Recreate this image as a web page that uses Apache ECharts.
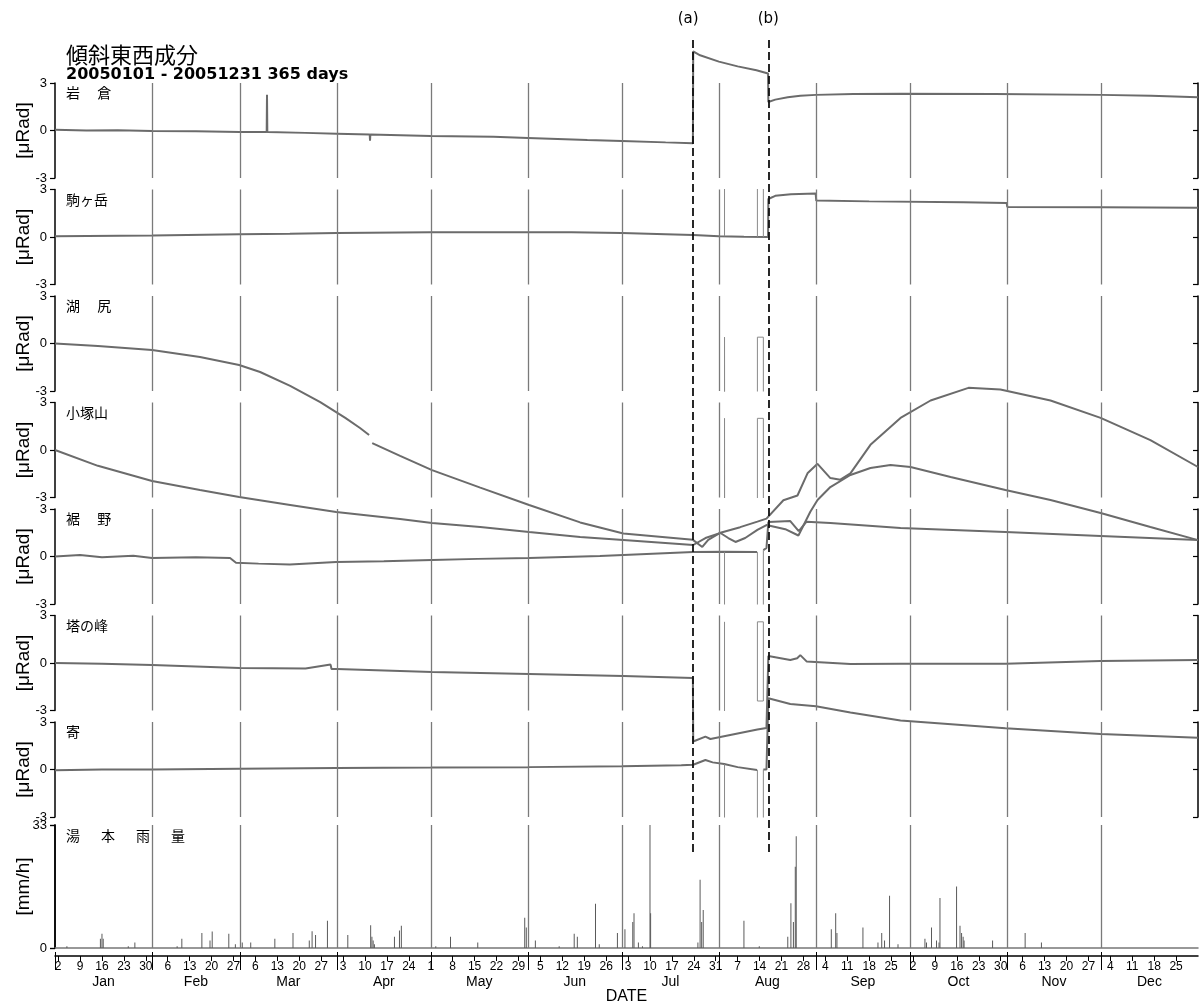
<!DOCTYPE html>
<html><head><meta charset="utf-8">
<script src="https://cdn.jsdelivr.net/npm/echarts@6/dist/echarts.min.js"></script>
<style>html,body{margin:0;padding:0;background:#fff}#c{width:1202px;height:1003px}</style>
</head><body><div id="c"></div>
<script>
// ---------- data ----------
const stationNames = ['岩\u3000 倉','駒ヶ岳','湖\u3000 尻','小塚山','裾\u3000 野','塔の峰','寄'];
const rainName = '湯\u3000\u2002本\u3000\u2002雨\u3000\u2002量';
const monthNames = ['Jan','Feb','Mar','Apr','May','Jun','Jul','Aug','Sep','Oct','Nov','Dec'];
const monthLengths = [31,28,31,30,31,30,31,31,30,31,30,31];
const weekLabels = ['2','9','16','23','30','6','13','20','27','6','13','20','27','3','10','17','24',
  '1','8','15','22','29','5','12','19','26','3','10','17','24','31','7','14','21','28',
  '4','11','18','25','2','9','16','23','30','6','13','20','27','4','11','18','25'];
const eventDays = [203.8, 227.8];
const eventLabels = ['(a)','(b)'];

// tilt, east-west component [day of year, μRad]
const iwakura = [[0,0.05],[10,0.0],[20,0.02],[31,-0.03],[45,-0.05],[59,-0.1],[67.6,-0.1],[67.7,2.25],[67.8,-0.1],[80,-0.15],[90,-0.2],[100.5,-0.25],[100.6,-0.65],[100.7,-0.25],[120,-0.35],[140,-0.4],[151,-0.47],[170,-0.6],[181,-0.66],[195,-0.75],[203.7,-0.8],[203.8,5.0],[206,4.75],[212,4.35],[218,4.05],[224,3.8],[227.7,3.6],[227.8,1.8],[230,1.95],[234,2.1],[238,2.2],[243,2.25],[255,2.3],[270,2.32],[300,2.3],[334,2.25],[350,2.2],[365,2.1]];
const komagatake = [[0,0.05],[31,0.1],[59,0.18],[75,0.2],[90,0.25],[120,0.3],[151,0.3],[165,0.3],[181,0.25],[195,0.18],[203.8,0.12],[212,0.05],[220,0.02],[227.7,0.0],[227.8,2.4],[230,2.6],[235,2.7],[242.9,2.75],[243.1,2.3],[260,2.25],[290,2.2],[303.9,2.15],[304.1,1.9],[334,1.88],[365,1.85]];
const kojiri = [[0,0.0],[13.7,-0.16],[31,-0.41],[46.3,-0.85],[58.8,-1.36],[65.5,-1.8],[75.1,-2.68],[84.7,-3.7],[92.7,-4.7],[97.4,-5.34],[100.3,-5.78],[100.8,'-'],[101.3,-6.29],[110.2,-7.1],[120.4,-8.0],[135.8,-9.1],[151.4,-10.2],[167.7,-11.3],[181.5,-12.0],[203.7,-12.4],[206.7,-12.85],[208.6,-12.4],[212.5,-11.95],[218.8,-11.6],[224.3,-11.25],[227.2,-11.06],[227.8,-11.0],[232.6,-9.9],[237.1,-9.6],[240.3,-8.2],[243.5,-7.6],[247.6,-8.5],[250.8,-8.6],[254,-8.2],[260.4,-6.4],[270,-4.7],[279.6,-3.6],[291.7,-2.8],[301.9,-2.9],[317.9,-3.6],[333.9,-4.7],[349.8,-6.1],[365,-7.8]];
const kozukayama = [[0,0.0],[13.7,-1.0],[31,-1.96],[46.3,-2.53],[58.8,-2.97],[75.1,-3.47],[89.8,-3.92],[110.2,-4.36],[120.4,-4.61],[135.8,-4.86],[151.4,-5.18],[167.7,-5.5],[181.5,-5.69],[203.8,-6.0],[207.7,-5.56],[212.5,-5.24],[215,-5.56],[217.3,-5.81],[220.4,-5.56],[224.3,-5.05],[227.2,-4.74],[227.8,-4.8],[233.2,-5.0],[237.4,-5.4],[241.2,-3.9],[243.5,-3.16],[247.6,-2.34],[254,-1.58],[260.4,-1.14],[266.8,-0.95],[273.2,-1.07],[286,-1.7],[303.5,-2.53],[317.9,-3.16],[333.9,-3.98],[349.8,-4.86],[365,-5.69]];
const susono = [[0,0.0],[8,0.1],[15,-0.05],[25,0.05],[31,-0.1],[45,-0.05],[55.9,-0.1],[57.8,-0.4],[65,-0.45],[75,-0.5],[89.8,-0.35],[105,-0.3],[120.4,-0.22],[135,-0.15],[151.4,-0.1],[174,0.03],[181.5,0.1],[203.8,0.28],[213.7,0.3],[224.2,0.28],[225,'-'],[226.2,0.4],[227.2,0.54],[227.8,2.18],[234.8,2.24],[237.5,1.6],[240,2.2],[247.6,2.12],[270,1.8],[303.5,1.55],[333.9,1.3],[365,1.04]];
const tonomine = [[0,0.0],[15,-0.05],[31,-0.13],[59,-0.32],[80,-0.35],[88,-0.1],[88.3,-0.38],[90,-0.38],[120.4,-0.57],[151.4,-0.7],[181.5,-0.82],[203.7,-0.95],[203.8,-4.96],[207.7,-4.65],[209.3,-4.8],[224.3,-4.2],[227.2,-4.1],[227.8,0.44],[234.8,0.19],[237,0.3],[238,0.5],[240,0.1],[254,-0.06],[270,-0.05],[303.5,-0.05],[333.9,0.12],[365,0.19]];
const yoriki = [[0,-0.05],[15,0.0],[31,0.0],[59,0.05],[90,0.1],[120,0.12],[151,0.15],[181,0.2],[200,0.27],[203.8,0.3],[207.7,0.6],[210,0.45],[213.7,0.35],[218,0.15],[224.2,-0.03],[225,'-'],[226.2,0.0],[227.2,0.0],[227.8,4.5],[234.8,4.14],[243,4.0],[254,3.6],[270,3.1],[303.5,2.6],[333.9,2.24],[365,2.0]];

// instrument dropouts (off-scale records, clipped to panel)
const komagatakeGap = [[213.8,20],[213.8,0.05],[214,'-'],[224.3,20],[224.3,0],[225,'-'],[226.2,20],[226.2,0]];
const kojiriGap = [[213.8,-20],[213.8,0.4],[213.9,-20],[214,'-'],[224.3,-20],[224.3,0.4],[226.2,0.4],[226.2,-20]];
const kozukayamaGap = [[213.8,-20],[213.8,2.0],[213.9,-20],[214,'-'],[224.3,-20],[224.3,2.0],[226.2,2.0],[226.2,-20]];
const susonoGap = [[213.8,0.3],[213.8,-20],[214,'-'],[224.3,0.28],[224.3,-20],[225,'-'],[226.2,-20],[226.2,0.4]];
const tonomineGap = [[213.8,-20],[213.8,2.6],[214,'-'],[224.3,-2.4],[224.3,2.6],[226.2,2.6],[226.2,-2.4],[224.3,-2.4]];
const yorikiGap = [[213.8,0.35],[213.8,-20],[214,'-'],[224.3,-0.03],[224.3,-20],[225,'-'],[226.2,-20],[226.2,0.0]];

// Yumoto rainfall [day of year, mm/h]
const rainfall = [[3.8,0.5],[14.5,2.5],[15,3.8],[15.4,2.5],[23.4,0.5],[25.5,1.5],[39,0.5],[40.5,2.5],[46.9,4.0],[49.5,2],[50.2,4.4],[55.5,3.8],[57.6,1.0],[59.8,1.5],[62.5,1.5],[70.2,2.5],[76,4.0],[81.2,2.0],[82.1,4.5],[83.2,3.5],[87,7.3],[93.5,3.5],[100.8,6.1],[101.2,3],[101.6,2],[102,1],[108.4,3],[110,4.7],[110.6,6],[121.6,0.5],[126.3,3],[135,1.5],[150,8.1],[150.5,5.5],[153.4,2.0],[161,0.5],[165.8,3.8],[166.8,3],[172.6,11.9],[173.8,1],[179.6,4],[182,5],[184.5,7],[184.9,9.3],[186.3,1.5],[187.6,0.5],[190,33],[190.2,9.3],[205.3,1.5],[206,18.3],[206.5,7],[207,10.2],[220,7.3],[224.9,0.5],[234,3],[235,12],[235.8,7],[236.4,21.8],[236.7,30],[247.9,5],[249.3,9.3],[249.7,4],[258,5.5],[262.8,1.5],[264,4],[264.9,2],[266.5,14],[269.2,1],[277.8,2.5],[278.3,1.5],[279.9,5.5],[281.5,2],[282.3,1.5],[282.6,13.4],[287.9,16.5],[289,6],[289.5,4],[290,3],[290.3,2],[299.4,2],[309.8,4],[315,1.5]];

const stationData = [iwakura, komagatake, kojiri, kozukayama, susono, tonomine, yoriki];
const stationGaps = [null, komagatakeGap, kojiriGap, kozukayamaGap, susonoGap, tonomineGap, yorikiGap];

// ---------- calendar helpers ----------
const monthStarts = [];
{ let s = 0; monthLengths.forEach(l => { monthStarts.push(s); s += l; }); }
const monthMids = monthStarts.map((s, i) => s + monthLengths[i] / 2);
const weekDays = weekLabels.map((_, i) => 1 + 7 * i);

// ---------- layout ----------
const PT = [83, 189.5, 296, 402.5, 509, 615.5, 722], PH = 95;
const RT = 825, RH = 123;
const LEFT = 55, RIGHT = 4;
const LINE = '#6b6b6b', MLINE = '#7a7a7a';
const FONT = '"Liberation Sans", Arial, sans-serif';
const CJK = '"Noto Sans CJK JP", sans-serif';

const monthMark = {
  symbol: 'none', silent: true, animation: false, label: {show: false},
  lineStyle: {color: MLINE, width: 1.3, type: 'solid'},
  emphasis: {disabled: true},
  data: monthStarts.slice(1).map(d => ({xAxis: d}))
};

const grids = [], xAxes = [], yAxes = [], series = [], graphics = [];
const mkGrid = (top, height) => ({left: LEFT, right: RIGHT, top: top, height: height,
  containLabel: false, outerBoundsMode: 'none'});
PT.forEach((t, i) => {
  grids.push(mkGrid(t, PH));
  xAxes.push({gridIndex: i, type: 'value', min: 0, max: 365, show: false, splitLine: {show: false}});
  yAxes.push({gridIndex: i, type: 'value', min: -3, max: 3, interval: 3,
    axisLine: {show: true, lineStyle: {color: '#000', width: 1.5}},
    axisTick: {show: true, length: 5, lineStyle: {color: '#000', width: 1.2}},
    axisLabel: {fontSize: 13, color: '#000', margin: 8, fontFamily: FONT},
    splitLine: {show: false},
    name: '[μRad]', nameLocation: 'middle', nameGap: 22, nameMoveOverlap: false,
    nameTextStyle: {fontSize: 19, color: '#000', fontFamily: FONT}});
  yAxes.push({gridIndex: i, type: 'value', min: -3, max: 3, interval: 3, position: 'right',
    axisLine: {show: true, lineStyle: {color: '#000', width: 1.5}},
    axisTick: {show: true, inside: true, length: 5, lineStyle: {color: '#000', width: 1.2}},
    axisLabel: {show: false}, splitLine: {show: false}});
  series.push({type: 'line', xAxisIndex: i, yAxisIndex: 2 * i, data: stationData[i],
    clip: false, showSymbol: false, symbol: 'none', connectNulls: false,
    lineStyle: {color: LINE, width: 2}, silent: true, markLine: monthMark});
  if (stationGaps[i]) {
    series.push({type: 'line', xAxisIndex: i, yAxisIndex: 2 * i, data: stationGaps[i],
      clip: true, showSymbol: false, symbol: 'none', connectNulls: false,
      lineStyle: {color: '#8a8a8a', width: 1}, silent: true});
  }
  graphics.push({type: 'text', left: 66, top: t + 3,
    style: {text: stationNames[i], font: '14px ' + CJK, fill: '#000'}});
});

// rain grid (index 7)
grids.push(mkGrid(RT, RH));
xAxes.push({gridIndex: 7, type: 'value', min: 0, max: 365,
  axisLine: {show: true, onZero: false, lineStyle: {color: '#777', width: 1.5}},
  axisTick: {show: false}, axisLabel: {show: false}, splitLine: {show: false}});
// week ticks & labels
xAxes.push({gridIndex: 7, type: 'value', min: 0, max: 365, position: 'bottom', offset: 8,
  axisLine: {show: true, onZero: false, lineStyle: {color: '#000', width: 1.5}},
  axisTick: {show: true, customValues: weekDays, length: 5, lineStyle: {color: '#000', width: 1}},
  axisLabel: {show: true, customValues: weekDays, margin: 5, fontSize: 12, color: '#000', fontFamily: FONT,
    formatter: v => weekLabels[weekDays.indexOf(v)]},
  splitLine: {show: false}});
// month boundary ticks (down)
xAxes.push({gridIndex: 7, type: 'value', min: 0, max: 365, position: 'bottom', offset: 8,
  axisLine: {show: false, onZero: false},
  axisTick: {show: true, customValues: monthStarts, length: 14, lineStyle: {color: '#000', width: 1}},
  axisLabel: {show: false}, splitLine: {show: false}});
// month boundary ticks (up)
xAxes.push({gridIndex: 7, type: 'value', min: 0, max: 365, position: 'bottom', offset: 8,
  axisLine: {show: false, onZero: false},
  axisTick: {show: true, inside: true, customValues: monthStarts, length: 4, lineStyle: {color: '#000', width: 1}},
  axisLabel: {show: false}, splitLine: {show: false}});
// month names
xAxes.push({gridIndex: 7, type: 'value', min: 0, max: 365, position: 'bottom', offset: 8,
  axisLine: {show: false, onZero: false}, axisTick: {show: false},
  axisLabel: {show: true, customValues: monthMids, margin: 19, fontSize: 14, color: '#000', fontFamily: FONT,
    formatter: v => monthNames[monthMids.indexOf(v)]},
  splitLine: {show: false},
  name: 'DATE', nameLocation: 'middle', nameGap: 33, nameMoveOverlap: false,
  nameTextStyle: {fontSize: 16, color: '#000', fontFamily: FONT}});

yAxes.push({gridIndex: 7, type: 'value', min: 0, max: 33, interval: 33,
  axisLine: {show: true, lineStyle: {color: '#000', width: 1.5}},
  axisTick: {show: true, length: 5, lineStyle: {color: '#000', width: 1.2}},
  axisLabel: {fontSize: 13, color: '#000', margin: 8, fontFamily: FONT},
  splitLine: {show: false},
  name: '[mm/h]', nameLocation: 'middle', nameGap: 22, nameMoveOverlap: false,
  nameTextStyle: {fontSize: 19, color: '#000', fontFamily: FONT}});
yAxes.push({gridIndex: 7, type: 'value', min: 0, max: 33, interval: 33, position: 'right',
  axisLine: {show: true, lineStyle: {color: '#000', width: 1.5}},
  axisTick: {show: true, inside: true, length: 5, lineStyle: {color: '#000', width: 1.2}},
  axisLabel: {show: false}, splitLine: {show: false}});
series.push({type: 'bar', xAxisIndex: 7, yAxisIndex: 14, data: rainfall, barWidth: 1,
  itemStyle: {color: '#5a5a5a'}, silent: true, markLine: monthMark});
graphics.push({type: 'text', left: 66, top: RT + 4,
  style: {text: rainName, font: '14px ' + CJK, fill: '#000'}});

// overlay grid for event lines (index 8)
grids.push(mkGrid(39, 813));
xAxes.push({gridIndex: 8, type: 'value', min: 0, max: 365, show: false, splitLine: {show: false}});
yAxes.push({gridIndex: 8, type: 'value', min: 0, max: 1, show: false, splitLine: {show: false}});
series.push({type: 'line', xAxisIndex: xAxes.length - 1, yAxisIndex: yAxes.length - 1, data: [],
  silent: true,
  markLine: {symbol: 'none', silent: true, animation: false,
    lineStyle: {color: '#111', width: 1.8, type: [8, 4]},
    label: {show: true, position: 'end', distance: 12, fontSize: 15, color: '#000',
      fontFamily: '"DejaVu Sans", sans-serif', formatter: p => p.name},
    data: eventDays.map((d, i) => ({xAxis: d, name: eventLabels[i],
      label: {offset: [i === 0 ? -5 : 0, 0]}}))}});

// titles
graphics.push({type: 'text', left: 66, top: 44,
  style: {text: '傾斜東西成分', font: '22px ' + CJK, fill: '#000'}});
graphics.push({type: 'text', left: 66, top: 67,
  style: {text: '20050101 - 20051231 365 days', font: 'bold 16px "DejaVu Sans", sans-serif', fill: '#000'}});

const chart = echarts.init(document.getElementById('c'), null, {renderer: 'canvas'});
chart.setOption({
  animation: false,
  backgroundColor: '#fff',
  grid: grids, xAxis: xAxes, yAxis: yAxes, series: series, graphic: graphics
});
</script>
</body></html>
